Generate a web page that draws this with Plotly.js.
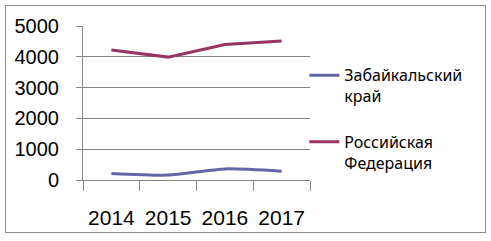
<!DOCTYPE html>
<html><head><meta charset="utf-8">
<script src="https://cdn.plot.ly/plotly-3.0.1.min.js"></script>
<style>
html,body{margin:0;padding:0;background:#fff;}
#chart{position:absolute;left:0;top:0;width:491px;height:241px;}
#frame{position:absolute;left:5px;top:5px;width:479px;height:226px;border:1px solid #8c8c8c;pointer-events:none;}
</style></head>
<body>
<div id="chart"></div>
<div id="frame"></div>
<script>
const years = ["2014", "2015", "2016", "2017"];
const zabaikalsky = [215, 160, 360, 285];
const russia = [4220, 3990, 4400, 4515];
const seriesNames = ["Забайкальский<br>край", "Российская<br>Федерация"];
const colors = ["#6367a8", "#983462"];

const traces = [
  {x: years, y: zabaikalsky, name: seriesNames[0], type: "scatter", mode: "lines", legendgroup: "a",
   line: {color: colors[0], width: 3, shape: "spline", smoothing: 0.6}},
  {x: years, y: russia, name: seriesNames[1], type: "scatter", mode: "lines", legendgroup: "b",
   line: {color: colors[1], width: 3}}
];

const layout = {
  width: 491, height: 241,
  margin: {l: 83, r: 181, t: 26, b: 61},
  paper_bgcolor: "#fff", plot_bgcolor: "#fff",
  font: {family: "Liberation Sans, Arial, sans-serif", color: "#000"},
  xaxis: {type: "category", range: [-0.5, 3.5], showgrid: false, showline: true, linecolor: "#868686", linewidth: 1,
          ticks: "outside", tickson: "boundaries", ticklen: 10, tickcolor: "#868686",
          tickfont: {size: 21}, ticklabelstandoff: 19, zeroline: false, fixedrange: true},
  yaxis: {range: [0, 5000], dtick: 1000, showgrid: true, gridcolor: "#868686", gridwidth: 1,
          showline: true, linecolor: "#868686", linewidth: 1, ticks: "outside", ticklen: 6,
          tickcolor: "#868686", tickfont: {size: 20}, ticklabelstandoff: 13, zeroline: false},
  legend: {x: 0.975, xanchor: "left", y: 0.79, yanchor: "top", valign: "top",
           traceorder: "grouped", tracegroupgap: 22,
           font: {family: "Noto Sans, sans-serif", size: 16}, bgcolor: "rgba(0,0,0,0)"},
  showlegend: true
};
Plotly.newPlot("chart", traces, layout, {displayModeBar: false, staticPlot: true});
</script>
</body></html>
